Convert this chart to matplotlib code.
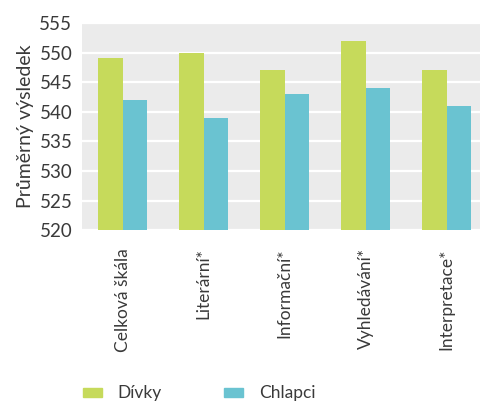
import numpy as np
import matplotlib.pyplot as plt
from matplotlib.patches import Patch

# data
kategorie = ['Celková škála', 'Literární*', 'Informační*', 'Vyhledávání*', 'Interpretace*']
divky = [549, 550, 547, 552, 547]
chlapci = [542, 539, 543, 544, 541]
yticks = [520, 525, 530, 535, 540, 545, 550, 555]

zelena = '#c6da5b'
modra = '#6ac3d1'
text_barva = '#3a3a3a'

plt.rcParams['font.family'] = ['Lato', 'DejaVu Sans']

fig = plt.figure(figsize=(4.8, 4.03), dpi=100)
ax = fig.add_axes([0.171, 0.429, 0.829, 0.514])
ax.set_facecolor('#ebebeb')

x = np.arange(len(kategorie))
w = 0.3
ax.bar(x - w / 2, divky, w, color=zelena, zorder=3)
ax.bar(x + w / 2, chlapci, w, color=modra, zorder=3)

ax.set_ylim(520, 555)
ax.set_xlim(-0.5, 4.41)
ax.set_yticks(yticks)
ax.set_yticklabels([str(v) for v in yticks], fontsize=13.5, color=text_barva)
ax.yaxis.grid(True, color='white', linewidth=1.6, zorder=1)
ax.set_axisbelow(True)
ax.set_xticks(x)
ax.set_xticklabels(kategorie, rotation=90, fontsize=12.5, color=text_barva)
ax.tick_params(length=0)
ax.tick_params(axis='y', pad=7)
ax.tick_params(axis='x', pad=13)
for s in ax.spines.values():
    s.set_visible(False)

ax.set_ylabel('Průměrný výsledek', fontsize=14, color=text_barva, labelpad=4)

handles = [Patch(color=zelena, label='Dívky'), Patch(color=modra, label='Chlapci')]
fig.legend(handles=handles, loc='lower left', bbox_to_anchor=(0.14, -0.035), ncol=2,
           frameon=False, fontsize=12.5, handlelength=1.1, handleheight=0.45,
           handletextpad=0.9, columnspacing=3.6, labelcolor=text_barva)

fig.savefig('out.png', dpi=100)
